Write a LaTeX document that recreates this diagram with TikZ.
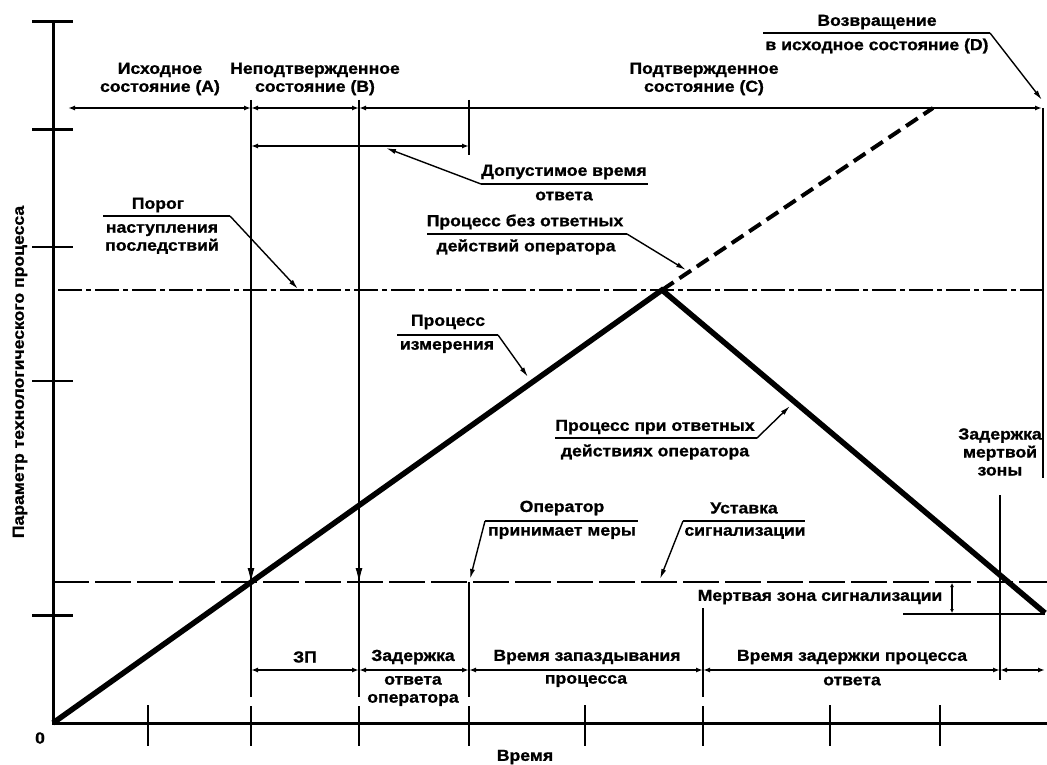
\documentclass[tikz,border=0pt]{standalone}
\usepackage{fontspec}
\setmainfont{Liberation Sans}[FakeStretch=1.1, BoldFeatures={FakeBold=1}]
\usetikzlibrary{arrows.meta}

\begin{document}
\begin{tikzpicture}
[
x=1pt, y=-1pt,
every node/.style={font=\fontsize{16}{18}\selectfont\bfseries, align=center, inner sep=0pt},
Axis/.style={draw=black, line width=3pt},
Tick/.style={draw=black, line width=1.5pt},
Bigtick/.style={draw=black, line width=3pt},
Vline/.style={draw=black, line width=2.6pt},
Thinline/.style={draw=black, line width=1.4pt},
Dimline/.style={{Latex[length=7pt,width=5pt]}-{Latex[length=7pt,width=5pt]}, draw=black, line width=1.4pt},
Leader/.style={-{Latex[length=10pt,width=5pt]}, draw=black, line width=1.4pt},
Downarrow/.style={-{Latex[length=14pt,width=7pt]}, draw=black, line width=1pt},
Process/.style={draw=black, line width=5.5pt},
Noresponse/.style={draw=black, line width=4pt, dash pattern=on 14pt off 7pt},
Threshold/.style={draw=black, line width=2.4pt, dash pattern=on 24pt off 4pt on 5pt off 4pt},
Alarmline/.style={draw=black, line width=2.4pt, dash pattern=on 36pt off 6pt},
]

\useasboundingbox (0,0) rectangle (1047,765);

% axes
\coordinate (O) at (53,723);
\coordinate (ytop) at (53,22);
\coordinate (xend) at (1047,723);
\draw[Axis] (ytop) -- (O) -- (xend);
\foreach \y in {22,130,615} \draw[Bigtick] (32,\y) -- (73,\y);
\foreach \y in {247,381} \draw[Tick] (32,\y) -- (73,\y);
\foreach \x in {148,585,830,940} \draw[Tick] (\x,705) -- (\x,746);
\foreach \x in {251,359,469,703} \draw[Vline] (\x,706) -- (\x,746);
\node (zero) at (40,738) {0};
\node (time) at (525,757) {Время};
\node[rotate=90] (param) at (20,372) {Параметр технологического процесса};

% threshold and alarm setpoint
\draw[Threshold] (58,290) -- (1043,290);
\draw[Alarmline] (53,582) -- (1047,582);

% process
\coordinate (peak) at (662,290);
\draw[Process, line join=miter] (O) -- (peak) -- (1045,613);
\draw[Noresponse] (peak) -- (933,108);

% vertical lines
\draw[Vline] (251,100) -- (251,697);
\draw[Vline] (359,100) -- (359,697);
\draw[Vline] (469,100) -- (469,155);
\draw[Vline] (469,582) -- (469,697);
\draw[Vline] (703,608) -- (703,697);
\draw[Vline] (1000,495) -- (1000,680);
\draw[Thinline] (1043,108) -- (1043,478);
\draw[Downarrow] (251,556) -- (251,582);
\draw[Downarrow] (359,556) -- (359,582);

% states
\draw[Dimline] (68,108) -- (251,108);
\draw[Dimline] (251,108) -- (359,108);
\draw[Dimline] (359,108) -- (1042,108);
\draw[Dimline] (251,146) -- (469,146);
\node (stateA) at (160,79) {Исходное\\состояние (A)};
\node (stateB) at (315,79) {Неподтвержденное\\состояние (B)};
\node (stateC) at (704,79) {Подтвержденное\\состояние (C)};

% return to normal
\coordinate (stateDL) at (763,33);
\coordinate (stateDR) at (990,33);
\coordinate (stateDtip) at (1042,100);
\draw[Thinline] (stateDL) -- (stateDR);
\draw[Leader] (stateDR) -- (stateDtip);
\node (stateD1) at (877,22) {Возвращение};
\node (stateD2) at (877,46) {в исходное состояние (D)};

% allowed response time
\coordinate (allowedL) at (481,184);
\coordinate (allowedR) at (648,184);
\coordinate (allowedtip) at (386,148);
\draw[Thinline] (allowedL) -- (allowedR);
\draw[Leader] (allowedL) -- (allowedtip);
\node (allowed1) at (564,172) {Допустимое время};
\node (allowed2) at (564,196) {ответа};

% consequence threshold
\coordinate (thresholdL) at (103,216);
\coordinate (thresholdR) at (230,216);
\coordinate (thresholdtip) at (298,289);
\draw[Thinline] (thresholdL) -- (thresholdR);
\draw[Leader] (thresholdR) -- (thresholdtip);
\node (threshold1) at (158,205) {Порог};
\node (threshold2) at (162,239) {наступления\\последствий};

% process without response
\coordinate (noreplyL) at (427,234);
\coordinate (noreplyR) at (627,234);
\coordinate (noreplytip) at (686,270);
\draw[Thinline] (noreplyL) -- (noreplyR);
\draw[Leader] (noreplyR) -- (noreplytip);
\node (noreply1) at (525,222) {Процесс без ответных};
\node (noreply2) at (526,247) {действий оператора};

% measured process
\coordinate (measureL) at (397,335);
\coordinate (measureR) at (498,335);
\coordinate (measuretip) at (528,377);
\draw[Thinline] (measureL) -- (measureR);
\draw[Leader] (measureR) -- (measuretip);
\node (measure1) at (448,322) {Процесс};
\node (measure2) at (447,347) {измерения};

% process with response
\coordinate (replyL) at (555,438);
\coordinate (replyR) at (757,438);
\coordinate (replytip) at (790,406);
\draw[Thinline] (replyL) -- (replyR);
\draw[Leader] (replyR) -- (replytip);
\node (reply1) at (655,427) {Процесс при ответных};
\node (reply2) at (655,452) {действиях оператора};

% operator acts
\coordinate (operatorL) at (485,521);
\coordinate (operatorR) at (638,521);
\coordinate (operatortip) at (470,579);
\draw[Thinline] (operatorL) -- (operatorR);
\draw[Leader] (operatorL) -- (operatortip);
\node (operator1) at (562,508) {Оператор};
\node (operator2) at (562,533) {принимает меры};

% alarm setpoint
\coordinate (setpointL) at (683,521);
\coordinate (setpointR) at (805,521);
\coordinate (setpointtip) at (660,579);
\draw[Thinline] (setpointL) -- (setpointR);
\draw[Leader] (setpointL) -- (setpointtip);
\node (setpoint1) at (744,508) {Уставка};
\node (setpoint2) at (745,533) {сигнализации};

% deadband
\draw[Thinline] (903,614) -- (1045,614);
\draw[{Latex[length=4pt,width=4pt]}-{Latex[length=4pt,width=4pt]}, line width=1.2pt] (952,583) -- (952,613);
\node (deadband) at (820,597) {Мертвая зона сигнализации};
\node (deadbanddelay) at (1000,452) {Задержка\\мертвой\\зоны};

% time intervals
\draw[Dimline] (251,670) -- (359,670);
\draw[Dimline] (359,670) -- (469,670);
\draw[Dimline] (469,670) -- (703,670);
\draw[Dimline] (703,670) -- (1000,670);
\draw[Dimline] (1000,670) -- (1045,670);
\node (delay1) at (305,657) {ЗП};
\node (delay2) at (413,657) {Задержка};
\node (delay2b) at (413,691) {ответа\\оператора};
\node (lag1) at (587,657) {Время запаздывания};
\node (lag2) at (586,681) {процесса};
\node (resp1) at (852,657) {Время задержки процесса};
\node (resp2) at (852,681) {ответа};
\end{tikzpicture}
\end{document}
